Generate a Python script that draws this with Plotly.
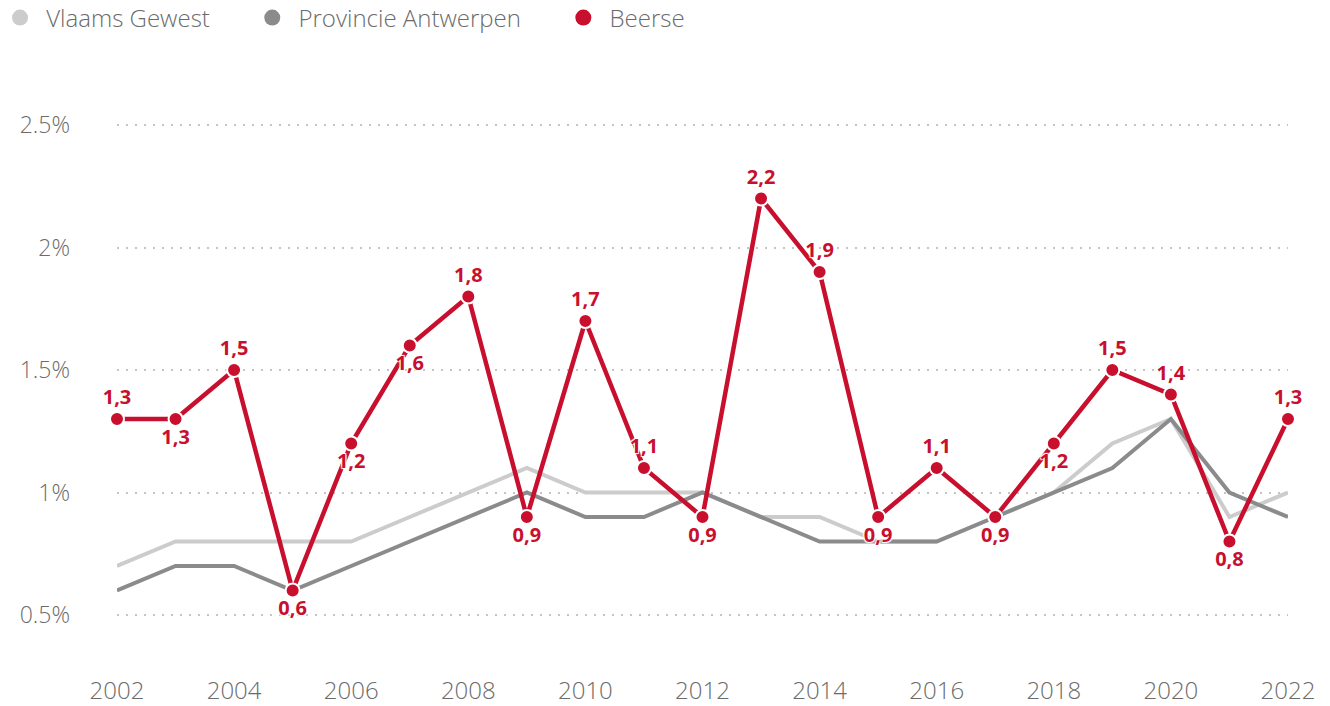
import plotly.graph_objects as go

years = list(range(2002, 2023))
vlaams = [0.7, 0.8, 0.8, 0.8, 0.8, 0.9, 1.0, 1.1, 1.0, 1.0, 1.0, 0.9, 0.9, 0.8, 0.8, 0.9, 1.0, 1.2, 1.3, 0.9, 1.0]
antwerpen = [0.6, 0.7, 0.7, 0.6, 0.7, 0.8, 0.9, 1.0, 0.9, 0.9, 1.0, 0.9, 0.8, 0.8, 0.8, 0.9, 1.0, 1.1, 1.3, 1.0, 0.9]
beerse = [1.3, 1.3, 1.5, 0.6, 1.2, 1.6, 1.8, 0.9, 1.7, 1.1, 0.9, 2.2, 1.9, 0.9, 1.1, 0.9, 1.2, 1.5, 1.4, 0.8, 1.3]
label_pos = ["top", "bottom", "top", "bottom", "bottom", "bottom", "top", "bottom", "top", "top",
             "bottom", "top", "top", "bottom", "top", "bottom", "bottom", "top", "top", "bottom", "top"]
y_ticks = [0.5, 1.0, 1.5, 2.0, 2.5]
y_tick_labels = ["0.5%", "1%", "1.5%", "2%", "2.5%"]
x_ticks = list(range(2002, 2023, 2))
series_names = ["Vlaams Gewest", "Provincie Antwerpen", "Beerse"]
colors = ["#cccccc", "#8a8b8d", "#c8102e"]

FONT = "Open Sans"
TXT = "#6b6b6b"
NB = "\u00a0"
fig = go.Figure()
fig.add_trace(go.Scatter(x=years, y=vlaams, name=series_names[0], mode="lines", showlegend=False,
                         line=dict(color=colors[0], width=4), cliponaxis=False))
fig.add_trace(go.Scatter(x=years, y=antwerpen, name=series_names[1], mode="lines", showlegend=False,
                         line=dict(color=colors[1], width=4), cliponaxis=False))
fig.add_trace(go.Scatter(x=years, y=beerse, name=series_names[2], mode="lines+markers+text", showlegend=False,
                         line=dict(color=colors[2], width=4.5),
                         marker=dict(color=colors[2], size=14, line=dict(color="white", width=2)),
                         text=[f"{v:.1f}".replace(".", ",") for v in beerse],
                         textposition=[p + " center" for p in label_pos],
                         textfont=dict(family=FONT, size=20, color=colors[2], weight="bold",
                                       shadow="1px 1px 1px white, -1px -1px 1px white, 1px -1px 1px white, -1px 1px 1px white"),
                         cliponaxis=False))
# legend entries with circle symbols
for nm, c in zip(series_names, colors):
    fig.add_trace(go.Scatter(x=[None], y=[None], name=NB + nm + NB * 6, mode="markers",
                             marker=dict(color=c, size=20, symbol="circle")))

fig.update_layout(
    width=1322, height=698,
    paper_bgcolor="white", plot_bgcolor="white",
    margin=dict(l=109, r=42, t=68, b=42, autoexpand=False),
    font=dict(family=FONT, color=TXT, size=24),
    showlegend=True,
    legend=dict(orientation="h", x=-0.0999, y=1.0986, xanchor="left", yanchor="middle",
                font=dict(size=24, color=TXT, weight=300), itemwidth=30, tracegroupgap=0),
    xaxis=dict(range=[2002, 2022], tickvals=x_ticks, showgrid=False, zeroline=False,
               showline=False, ticks="", ticklabelstandoff=10, automargin=False,
               tickfont=dict(size=24, color=TXT, weight=300)),
    yaxis=dict(range=[0.3, 2.7], tickvals=y_ticks, ticktext=y_tick_labels, showgrid=True,
               gridcolor="#c4c4c4", griddash="2px,7px", gridwidth=2, zeroline=False, showline=False,
               ticks="", ticklabelstandoff=46, automargin=False,
               tickfont=dict(size=23, color=TXT, weight=300)),
)
fig.write_html("out.html")
